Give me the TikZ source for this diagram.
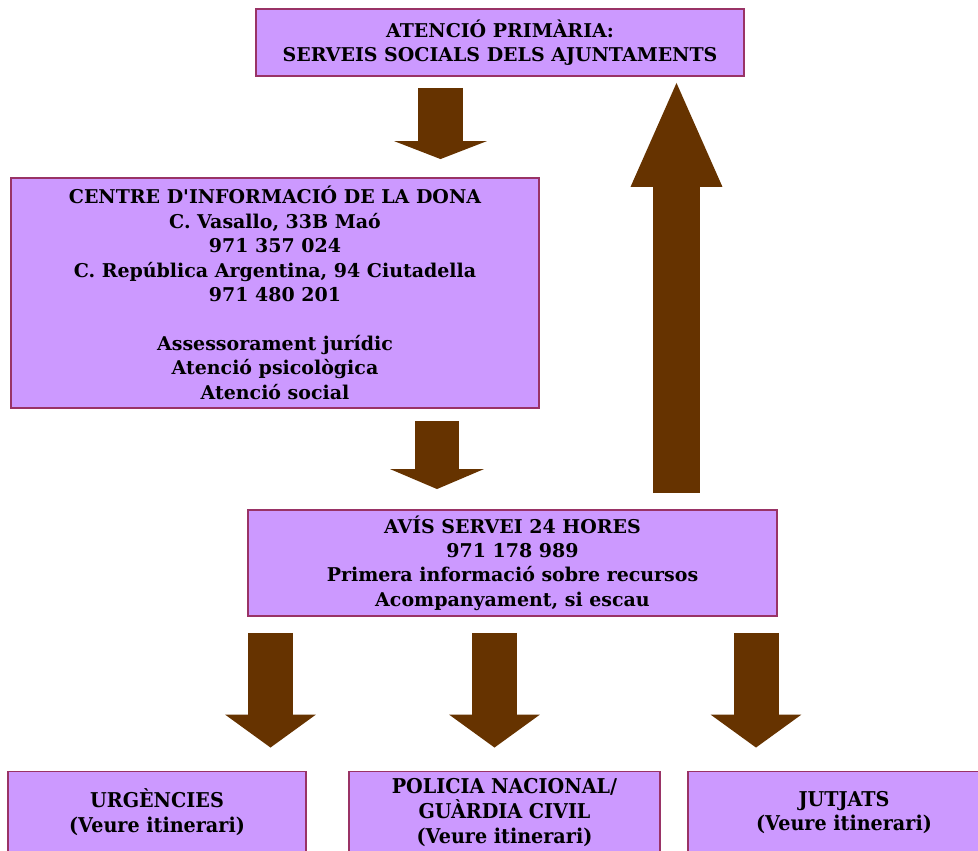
\documentclass[tikz,border=0pt]{standalone}
\usepackage{fontspec}
\setmainfont{DejaVu Serif}
\newfontfamily\narrowserif[FakeStretch=0.94]{DejaVu Serif}
\usepackage{xcolor}
\usepackage{tikz}
\usetikzlibrary{arrows.meta, positioning, calc}

\definecolor{lilac}{HTML}{CC99FF}
\definecolor{plum}{HTML}{993366}
\definecolor{brownarrow}{HTML}{663300}

\begin{document}
\begin{tikzpicture}[
    x=0.02cm, y=-0.02cm,
    font=\bfseries\fontsize{10.8}{13.9}\selectfont,
    % Styles
    card/.style={
      draw=plum,
      fill=lilac,
      line width=1.1pt,
      align=center,
      inner sep=0pt
    },
    lowcard/.style={
      card,
      font=\narrowserif\bfseries\fontsize{11.6}{14.2}\selectfont,
      minimum height=1.64cm
    },
    blockarrow/.style={
      draw=brownarrow,
      line width=0.9cm
    }
  ]

    \useasboundingbox (0,0) rectangle (978,851);
    \clip (0,0) rectangle (978,851);

    % Boxes
    \node (primaria) [card, minimum width=9.76cm, minimum height=1.34cm] at (500,42.5)
      {ATENCIÓ PRIMÀRIA:\\SERVEIS SOCIALS DELS AJUNTAMENTS};
    \node (dona) [card, minimum width=10.56cm, minimum height=4.6cm] at (275,293)
      {CENTRE D\textquotesingle INFORMACIÓ DE LA DONA\\C. Vasallo, 33B Maó\\971 357 024\\
       C. República Argentina, 94 Ciutadella\\971 480 201\\~\\
       Assessorament jurídic\\Atenció psicològica\\Atenció social};
    \node (avis) [card, minimum width=10.58cm, minimum height=2.12cm] at (512.5,563)
      {AVÍS SERVEI 24 HORES\\971 178 989\\Primera informació sobre recursos\\Acompanyament, si escau};

    % Bottom row, cut off by the page edge
    \node (urgencies) [lowcard, minimum width=5.96cm] at (157,812.5)
      {URGÈNCIES\\(Veure itinerari)};
    \node (policia) [lowcard, minimum width=6.22cm] at (504.5,812.5)
      {POLICIA NACIONAL/\\GUÀRDIA CIVIL\\(Veure itinerari)};
    \node (jutjats) [lowcard, minimum width=6.24cm] at (844,812.5)
      {JUTJATS\\(Veure itinerari)};

    % Guides for the arrow shafts
    \coordinate (c1) at (440.5,0);
    \coordinate (c2) at (437,0);
    \coordinate (cup) at (676.5,0);
    \coordinate (c3) at (270.5,0);
    \coordinate (c4) at (494.5,0);
    \coordinate (c5) at (756,0);

    % Arrows
    \draw [blockarrow, -{Triangle[width=1.86cm, length=0.36cm, line width=0pt]},
      shorten <=0.22cm, shorten >=0.36cm] (primaria.south -| c1) -- (dona.north -| c1);
    \draw [blockarrow, -{Triangle[width=1.88cm, length=0.4cm, line width=0pt]},
      shorten <=0.24cm, shorten >=0.4cm] (dona.south -| c2) -- (avis.north -| c2);
    \draw [blockarrow, line width=0.94cm, -{Triangle[width=1.84cm, length=2.08cm, line width=0pt]},
      shorten <=0.32cm, shorten >=0.12cm] (avis.north -| cup) -- (primaria.south -| cup);

    \draw [blockarrow, -{Triangle[width=1.82cm, length=0.66cm, line width=0pt]},
      shorten <=0.32cm, shorten >=0.46cm] (avis.south -| c3) -- (urgencies.north -| c3);
    \draw [blockarrow, -{Triangle[width=1.82cm, length=0.66cm, line width=0pt]},
      shorten <=0.32cm, shorten >=0.46cm] (avis.south -| c4) -- (policia.north -| c4);
    \draw [blockarrow, -{Triangle[width=1.82cm, length=0.66cm, line width=0pt]},
      shorten <=0.32cm, shorten >=0.46cm] (avis.south -| c5) -- (jutjats.north -| c5);

  \end{tikzpicture}
\end{document}
